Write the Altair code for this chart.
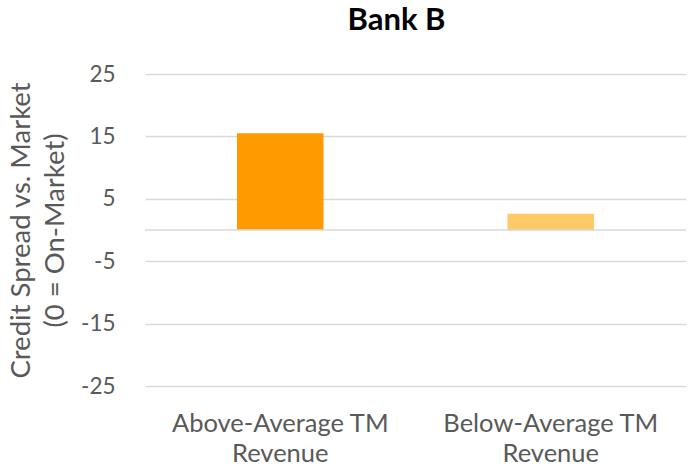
import altair as alt
import pandas as pd

categories = ["Above-Average TM Revenue", "Below-Average TM Revenue"]
label_lines = [["Above-Average TM", "Revenue"], ["Below-Average TM", "Revenue"]]
values = [15.5, 2.6]
colors = ["#FF9A00", "#FFC966"]
y_ticks = [-25, -15, -5, 5, 15, 25]

df = pd.DataFrame({"cat": categories, "value": values, "color": colors})

FONT = "Lato"
GRAY = "#595959"
GRID = "#D9D9D9"

label_expr = (
    "datum.value == '" + categories[0] + "' ? ['" + "','".join(label_lines[0]) + "'] : ['"
    + "','".join(label_lines[1]) + "']"
)

base = alt.Chart(df)

bars = base.mark_bar().encode(
    x=alt.X(
        "cat:N",
        sort=categories,
        scale=alt.Scale(paddingInner=0.68, paddingOuter=0.34),
        axis=alt.Axis(
            title=None,
            labelAngle=0,
            labelExpr=label_expr,
            labelFont=FONT,
            labelFontSize=25.5,
            labelColor=GRAY,
            labelLineHeight=30,
            labelPadding=25,
            labelLimit=400,
            domain=False,
            ticks=False,
            grid=False,
        ),
    ),
    y=alt.Y(
        "value:Q",
        scale=alt.Scale(domain=[-25, 25], nice=False, zero=False),
        axis=alt.Axis(
            values=y_ticks,
            labelExpr="toString(datum.value)",
            title=["Credit Spread vs. Market", "(0 = On-Market)"],
            titleFont=FONT,
            titleFontSize=27.5,
            titleFontWeight="normal",
            titleColor=GRAY,
            titleLineHeight=34,
            titlePadding=11,
            titleLimit=500,
            labelFont=FONT,
            labelFontSize=22.5,
            labelColor=GRAY,
            labelPadding=30,
            domain=False,
            ticks=False,
            gridColor=GRID,
            gridWidth=1.3,
        ),
    ),
    color=alt.Color("color:N", scale=None, legend=None),
)

zero_rule = alt.Chart(pd.DataFrame({"z": [0]})).mark_rule(color=GRID, strokeWidth=1.3).encode(
    y=alt.Y("z:Q")
)

chart = (
    alt.layer(bars, zero_rule)
    .properties(
        width=541,
        height=312,
        background="white",
        title=alt.TitleParams(
            "Bank B",
            font=FONT,
            fontSize=31,
            fontWeight="bold",
            color="#000000",
            anchor="middle",
            dx=-19,
            offset=26,
        ),
        autosize=alt.AutoSizeParams(type="none"),
        padding={"left": 145, "top": 74, "right": 6, "bottom": 83},
    )
    .configure_view(stroke=None, strokeWidth=0)
    .configure_axis(domain=False, ticks=False)
    .configure_axisX(grid=False)
)

chart.save("out.html", embed_options={"renderer": "svg", "actions": False})
